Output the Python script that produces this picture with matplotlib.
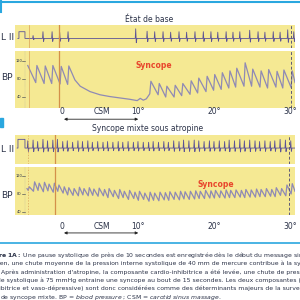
import matplotlib
matplotlib.use("Agg")
import matplotlib.pyplot as plt
from matplotlib.lines import Line2D
from matplotlib.patches import Rectangle

plt.rcParams['font.family'] = ['Liberation Sans Narrow', 'DejaVu Sans']
plt.rcParams['mathtext.fontset'] = 'custom'
plt.rcParams['mathtext.rm'] = 'Liberation Sans Narrow'
plt.rcParams['mathtext.it'] = 'Liberation Sans Narrow:italic'
plt.rcParams['mathtext.bf'] = 'Liberation Sans Narrow:bold'

# ---------------- data (times in seconds, pressure in mmHg) ----------------
time_ticks = [0, 10, 20, 30]
time_labels = ["0", "10°", "20°", "30°"]
bp_ticks = [120, 80, 40]

# top panel : état de base
top_ecg_t = [-3.8, -2.5, -1.3, -0.3, 0.8, 9.7, 11.2, 12.2, 13.3, 14.3, 15.4, 16.4, 17.5,
             18.6, 19.6, 20.5, 21.6, 22.5, 23.4, 24.7, 25.8, 26.7, 27.8, 28.7, 29.7, 30.5]
top_ecg_h = [0.3, 0.7, 0.7, 0.65, 0.7, 1.0, 0.75, 0.7, 0.7, 0.65, 0.7, 0.65, 0.7,
             0.7, 0.7, 0.65, 0.7, 0.65, 0.7, 0.85, 0.7, 0.65, 0.7, 0.65, 0.9, 0.7]

top_bp_start_t, top_bp_start_v = -4.5, 110
top_bp_peak_t = [-3.3, -2.2, -1.2, -0.1, 0.9]
top_bp_peak_v = [110, 109, 110, 108, 109]
top_bp_trough_v = [72, 70, 70, 69, 68]
top_decay_t = [1.7, 2.4, 3.7, 5.0, 6.3, 7.6, 8.9, 9.9, 10.3, 10.7, 11.1]
top_decay_v = [78, 64, 52, 45, 41, 38, 35, 32, 37, 33, 36]
top_rec_peak_t = [11.7, 12.8, 13.8, 14.9, 15.9, 17.0, 18.0, 19.1, 20.1, 21.1,
                  22.1, 23.0, 24.1, 25.1, 26.2, 27.2, 28.3, 29.2, 30.3]
top_rec_peak_v = [75, 70, 64, 66, 70, 76, 82, 86, 90, 94,
                  98, 104, 116, 102, 98, 101, 97, 100, 98]
top_rec_trough_v = [47, 45, 40, 40, 43, 46, 49, 52, 55, 57,
                    60, 62, 64, 64, 62, 60, 62, 60, 61]
top_bp_end_v = 72

# bottom panel : syncope mixte sous atropine
low_beat_t = [-4.3, -3.6, -3.0, -2.3, -1.7, -1.0, -0.4, 0.3, 0.9, 1.6,
              2.3, 2.9, 3.6, 4.2, 4.9, 5.6, 6.2, 6.9, 7.6, 8.2,
              8.9, 9.6, 10.2, 10.9, 11.6, 12.2, 12.9, 13.6, 14.2, 14.9,
              15.6, 16.2, 16.9, 17.6, 18.2, 18.9, 19.6, 20.2, 20.9, 21.6,
              22.2, 22.9, 23.6, 24.2, 24.9, 25.6, 26.2, 26.9, 27.6, 28.2,
              28.9, 29.6, 30.3]
low_bp_peak_v = [96, 107, 104, 106, 102, 104, 100, 96, 94, 92,
                 95, 92, 94, 91, 93, 90, 92, 88, 90, 86,
                 88, 84, 86, 82, 84, 82, 84, 83, 85, 84,
                 86, 85, 86, 87, 86, 88, 87, 88, 87, 89,
                 88, 89, 88, 90, 89, 91, 90, 92, 90, 94,
                 92, 100, 103]
low_bp_trough_v = [88, 86, 88, 85, 87, 84, 86, 82, 78, 77,
                   76, 78, 76, 77, 75, 76, 72, 74, 70, 72,
                   68, 70, 66, 68, 64, 66, 65, 67, 66, 68,
                   67, 69, 68, 69, 70, 70, 71, 71, 72, 71,
                   72, 72, 73, 72, 73, 73, 74, 74, 75, 74,
                   77, 76, 80]
low_bp_start_t, low_bp_start_v = -4.6, 92
low_bp_end_v = 86
low_ecg_h = [0.5, 0.55, 0.45, 0.6, 0.5, 0.55, 0.6, 0.45, 0.5, 0.4,
             0.5, 0.45, 0.5, 0.4, 0.45, 0.4, 0.45, 0.4, 0.45, 0.4,
             0.45, 0.4, 0.45, 0.4, 0.4, 0.45, 0.4, 0.45, 0.4, 0.5,
             0.45, 0.55, 0.5, 0.55, 0.5, 0.45, 0.5, 0.45, 0.5, 0.45,
             0.55, 0.5, 0.6, 0.5, 0.55, 0.5, 0.45, 0.5, 0.45, 0.5,
             0.6, 0.55, 0.5]

caption = [
    (-17, 255, r"$\bf{Figure\ 1A:}$ Une pause systolique de près de 10 secondes est enregistrée dès le début du message sino-carotidien,"),
    (-2, 263, "ien, une chute moyenne de la pression interne systolique de 40 mm de mercure contribue à la syncope."),
    (1, 272, "Après administration d'atropine, la composante cardio-inhibitrice a été levée, une chute de pression artérielle"),
    (-1, 280, "le systolique à 75 mmHg entraine une syncope au bout de 15 secondes. Les deux composantes (cardio-"),
    (-1, 288, "ibitrice et vaso-dépressive) sont donc considérées comme des déterminants majeurs de la survenue"),
    (0, 297, r"de syncope mixte. BP = $\it{blood\ pressure}$ ; CSM = $\it{carotid\ sinus\ massage}$."),
]

# ---------------- style ----------------
YELLOW = '#F5E993'
BP_COL = '#8F8AB5'
ECG_COL = '#5B5296'
ORANGE = '#D4904A'
BLUE = '#2AA7DF'
TXT = '#2A3147'
RED = '#E8452C'
W = H = 300
T0, T1 = -6.18, 30.66

fig = plt.figure(figsize=(3, 3), dpi=100)


def px_axes(x0, y0, x1, y1):
    ax = fig.add_axes([x0 / W, 1 - y1 / H, (x1 - x0) / W, (y1 - y0) / H])
    ax.set_xlim(T0, T1)
    ax.set_xticks([])
    ax.set_yticks([])
    for s in ax.spines.values():
        s.set_visible(False)
    return ax


def pulse_line(peak_t, peak_v, trough_v, rise=0.15):
    t, v = [], []
    for pt, pv, tv in zip(peak_t, peak_v, trough_v):
        t += [pt - rise, pt]
        v += [tv, pv]
    return t, v


def ecg_line(t_start, cal, cal_h, spikes, heights):
    t = [t_start, cal[0], cal[0], cal[1], cal[1]]
    v = [0, 0, cal_h, cal_h, 0]
    for s, h in zip(spikes, heights):
        t += [s - 0.06, s, s + 0.08, s + 0.16]
        v += [0, h, -0.45 * h, 0]
    t.append(T1)
    v.append(0)
    return t, v


def bp_scale(ax):
    for b in bp_ticks:
        ax.text(-5.6, b, str(b), fontsize=2.6, color=TXT, ha='center', va='center')
        ax.plot([-5.25, -4.85], [b, b], color=TXT, lw=0.4)
    ax.axvline(-4.8, color='#9A93A0', lw=0.3, ls=':')


# ---------------- top panel ----------------
ax1 = px_axes(15, 25, 295, 48)
ax1.set_facecolor(YELLOW)
ax1.set_ylim(-1, 1.4)
et, ev = ecg_line(-5.8, (-5.66, -4.87), 0.7, top_ecg_t, top_ecg_h)
ax1.plot(et, ev, color=ECG_COL, lw=0.6)

ax2 = px_axes(15, 51, 295, 108)
ax2.set_facecolor(YELLOW)
ax2.set_ylim(15.6, 142.2)
bp_scale(ax2)
pt, pv = pulse_line(top_bp_peak_t, top_bp_peak_v, top_bp_trough_v)
rt, rv = pulse_line(top_rec_peak_t, top_rec_peak_v, top_rec_trough_v)
bt = [top_bp_start_t] + pt + top_decay_t + rt + [T1]
bv = [top_bp_start_v] + pv + top_decay_v + rv + [top_bp_end_v]
ax2.plot(bt, bv, color=BP_COL, lw=0.9)
ax2.text(12.1, 109, "Syncope", color=RED, fontsize=5.5, fontweight='bold', ha='center', va='center')

for ax in (ax1, ax2):
    ax.axvline(-4.3, color=ORANGE, lw=0.5, alpha=0.8)
    ax.axvline(-0.4, color=ORANGE, lw=0.9)
    ax.axvline(30.1, color='#5E5A78', lw=0.7, ls=(0, (3, 2)))

ax3 = px_axes(15, 108, 295, 124)
ax3.set_ylim(0, 1)
ax3.patch.set_visible(False)
for t, lab in zip(time_ticks, time_labels):
    ax3.text(t, 0.75, lab, fontsize=5.5, color=TXT, ha='center', va='center')
ax3.text(5.2, 0.75, "CSM", fontsize=5.5, color=TXT, ha='center', va='center')
ax3.annotate('', xy=(10.4, 0.3), xytext=(-0.1, 0.3),
             arrowprops=dict(arrowstyle='<|-|>', lw=0.6, mutation_scale=4, color='#222222'))

# ---------------- bottom panel ----------------
ax4 = px_axes(15, 135, 295, 164)
ax4.set_facecolor(YELLOW)
ax4.set_ylim(-1.1, 0.9)
et, ev = ecg_line(-5.9, (-5.79, -4.87), 0.6, [b - 0.2 for b in low_beat_t], low_ecg_h)
ax4.plot(et, ev, color=ECG_COL, lw=0.6)

ax5 = px_axes(15, 167, 295, 215)
ax5.set_facecolor(YELLOW)
ax5.set_ylim(33.3, 140)
bp_scale(ax5)
lt, lv = pulse_line(low_beat_t, low_bp_peak_v, low_bp_trough_v)
ax5.plot([low_bp_start_t] + lt + [T1], [low_bp_start_v] + lv + [low_bp_end_v], color=BP_COL, lw=0.9)
ax5.text(20.3, 100, "Syncope", color=RED, fontsize=5.5, fontweight='bold', ha='center', va='center')

for ax in (ax4, ax5):
    ax.axvline(-4.5, color=ORANGE, lw=0.5, ls=(0, (2, 2)), alpha=0.8)
    ax.axvline(-0.9, color=ORANGE, lw=0.9)
    ax.axvline(29.9, color='#5E5A78', lw=0.7, ls=(0, (3, 2)))

ax6 = px_axes(15, 215, 295, 238)
ax6.set_ylim(0, 1)
ax6.patch.set_visible(False)
for t, lab in zip(time_ticks, time_labels):
    ax6.text(t, 0.48, lab, fontsize=5.5, color=TXT, ha='center', va='center')
ax6.text(5.2, 0.48, "CSM", fontsize=5.5, color=TXT, ha='center', va='center')
ax6.annotate('', xy=(10.4, 0.22), xytext=(-0.1, 0.22),
             arrowprops=dict(arrowstyle='<|-|>', lw=0.6, mutation_scale=4, color='#222222'))

# ---------------- labels, titles, rules ----------------
def ftext(x, y, s, **kw):
    fig.text(x / W, 1 - y / H, s, va='center', **kw)


ftext(149, 20, "État de base", ha='center', fontsize=5.5, color=TXT)
ftext(148, 129, "Syncope mixte sous atropine", ha='center', fontsize=5.5, color=TXT)
for y, lab in [(37, "L II"), (78, "BP"), (150, "L II"), (195, "BP")]:
    ftext(1, y, lab, ha='left', fontsize=6.5, color=TXT)

fig.add_artist(Line2D([0, 1], [1 - 2 / H] * 2, transform=fig.transFigure, color=BLUE, lw=1.5))
fig.add_artist(Line2D([1 / W] * 2, [1, 1 - 12 / H], transform=fig.transFigure, color=BLUE, lw=1.5))
fig.add_artist(Line2D([0, 1], [1 - 243 / H] * 2, transform=fig.transFigure, color=BLUE, lw=1.2))
fig.add_artist(Rectangle((0, 1 - 127 / H), 3 / W, 9 / H, transform=fig.transFigure, color=BLUE))

for x, y, s in caption:
    ftext(x, y, s, ha='left', fontsize=4.4, color=TXT)

fig.savefig("out.png", dpi=100)
